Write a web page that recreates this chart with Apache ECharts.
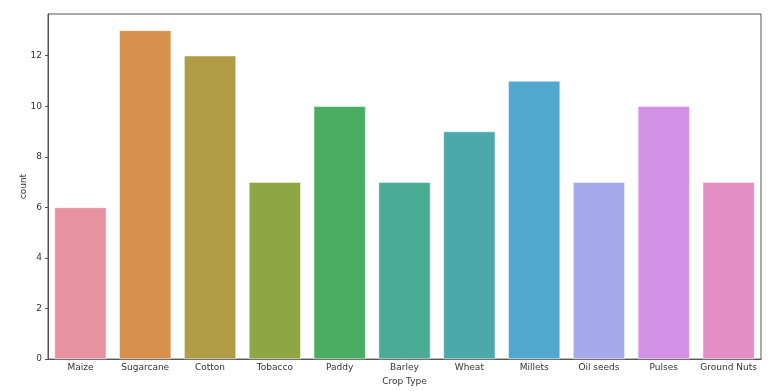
<!DOCTYPE html>
<html><head><meta charset="utf-8">
<script src="https://cdn.jsdelivr.net/npm/echarts@6/dist/echarts.min.js"></script>
<style>html,body{margin:0;padding:0;background:#fff}#c{width:774px;height:391px}</style>
</head><body><div id="c"></div>
<script>
const categories = ["Maize","Sugarcane","Cotton","Tobacco","Paddy","Barley","Wheat","Millets","Oil seeds","Pulses","Ground Nuts"];
const counts = [6,13,12,7,10,7,9,11,7,10,7];
const colors = ["#e8929f","#d98f4d","#b09c47","#8ea644","#4aae62","#4bab95","#4ba8ab","#52a9d0","#a6aaeb","#d491e6","#e48ec6"];
const yTicks = [0,2,4,6,8,10,12];
const yMax = 13.65;

const chart = echarts.init(document.getElementById('c'), null, {renderer:'canvas'});
const font = 'DejaVu Sans';
chart.setOption({
  animation:false,
  grid:{left:48,right:13,top:14,bottom:31,show:true,borderColor:'#555',borderWidth:1,backgroundColor:'transparent'},
  xAxis:{type:'category',data:categories,
    name:'Crop Type',nameLocation:'middle',nameGap:16,
    nameTextStyle:{fontFamily:font,fontSize:9,color:'#333'},
    axisLine:{lineStyle:{color:'#555'}},
    axisTick:{alignWithLabel:true,length:3,lineStyle:{color:'#555'}},
    axisLabel:{interval:0,fontFamily:font,fontSize:9,color:'#333',margin:4}},
  yAxis:{type:'value',min:0,max:yMax,interval:2,
    name:'count',nameLocation:'middle',nameGap:20,nameMoveOverlap:false,
    nameTextStyle:{fontFamily:font,fontSize:9,color:'#333'},
    splitLine:{show:false},
    axisLine:{show:true,lineStyle:{color:'#555'}},
    axisTick:{show:true,length:3,customValues:yTicks,lineStyle:{color:'#555'}},
    axisLabel:{fontFamily:font,fontSize:9,color:'#333',margin:6,customValues:yTicks}},
  series:[{type:'bar',barCategoryGap:'20%',
    data:counts.map((v,i)=>({value:v,itemStyle:{color:colors[i]}})),
    itemStyle:{borderColor:'#ffffff',borderWidth:0.5}}]
});
</script></body></html>
